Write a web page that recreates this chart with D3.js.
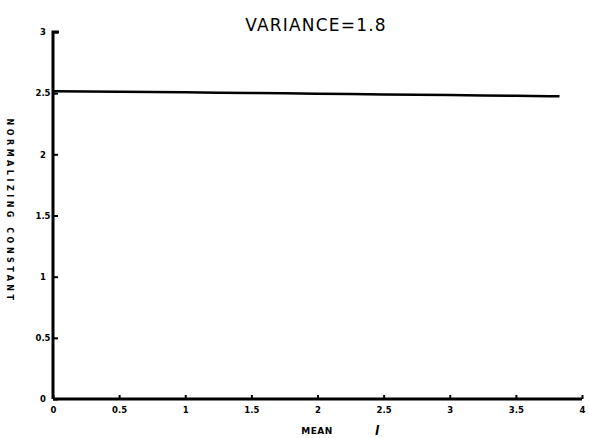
<!DOCTYPE html>
<html><head><meta charset="utf-8">
<script src="https://cdn.jsdelivr.net/npm/d3@7"></script>
<style>body{margin:0;background:#fff}svg{display:block}</style>
</head><body>
<script>
const title = "VARIANCE=1.8";
const xLabel = "MEAN";
const yLabel = "NORMALIZING CONSTANT";
const xTicks = [0,0.5,1,1.5,2,2.5,3,3.5,4];
const yTicks = [0,0.5,1,1.5,2,2.5,3];
const meanValues = [0,0.25,0.5,0.75,1,1.25,1.5,1.75,2,2.25,2.5,2.75,3,3.25,3.5,3.75,3.83];
const constValues = [2.515,2.514,2.512,2.51,2.507,2.504,2.502,2.499,2.496,2.493,2.49,2.487,2.484,2.481,2.478,2.475,2.474];

const W=589,H=438;
const svg=d3.select("body").append("svg").attr("width",W).attr("height",H);
const x=d3.scaleLinear().domain([0,4]).range([53,582]);
const y=d3.scaleLinear().domain([0,3]).range([399,32]);
const font="'DejaVu Sans', sans-serif";

// axes
const gx=svg.append("g").attr("transform",`translate(0,${y(0)})`)
  .call(d3.axisBottom(x).tickValues(xTicks).tickSize(-4).tickPadding(8)
  .tickFormat(d=>d3.format("")(d)));
const gy=svg.append("g").attr("transform",`translate(${x(0)},0)`)
  .call(d3.axisLeft(y).tickValues(yTicks).tickSize(-5).tickPadding(10)
  .tickFormat(d=>d3.format("")(d)));
[gx,gy].forEach(g=>{
  g.select(".domain").attr("stroke","#000").attr("stroke-width",3);
  g.selectAll(".tick line").attr("stroke","#000").attr("stroke-width",2);
  g.selectAll(".tick text").attr("fill","#000").attr("font-family",font)
    .attr("font-weight","bold").attr("font-size",8.5);
});
gy.selectAll(".tick text").attr("text-anchor","middle");
gy.select(".domain").attr("d",`M6,${y(3)}H0V${y(0)}`);
gx.select(".domain").attr("d",`M${x(0)},0H${x(4)}`);

// line
svg.append("path")
  .datum(meanValues.map((m,i)=>[m,constValues[i]]))
  .attr("fill","none").attr("stroke","#000").attr("stroke-width",2.5)
  .attr("d",d3.line().x(d=>x(d[0])).y(d=>y(d[1])));

// title
svg.append("text").attr("x",316).attr("y",31).attr("text-anchor","middle")
  .attr("font-family",font).attr("font-size",17).attr("letter-spacing",1.2)
  .attr("fill","#000").text(title);

// x label
svg.append("text").attr("x",317).attr("y",434).attr("text-anchor","middle")
  .attr("font-family",font).attr("font-size",9).attr("font-weight","bold")
  .attr("letter-spacing",0.5).attr("fill","#000").text(xLabel);
svg.append("text").attr("x",377).attr("y",435).attr("text-anchor","middle")
  .attr("font-family",font).attr("font-size",12).attr("font-weight","bold")
  .attr("font-style","italic").attr("fill","#000").text("l");

// y label
svg.append("text").attr("transform",`translate(7,211) rotate(90)`)
  .attr("text-anchor","middle").attr("font-family",font).attr("font-size",8)
  .attr("font-weight","bold").attr("letter-spacing",3.5).attr("fill","#000").text(yLabel);
</script>
</body></html>
